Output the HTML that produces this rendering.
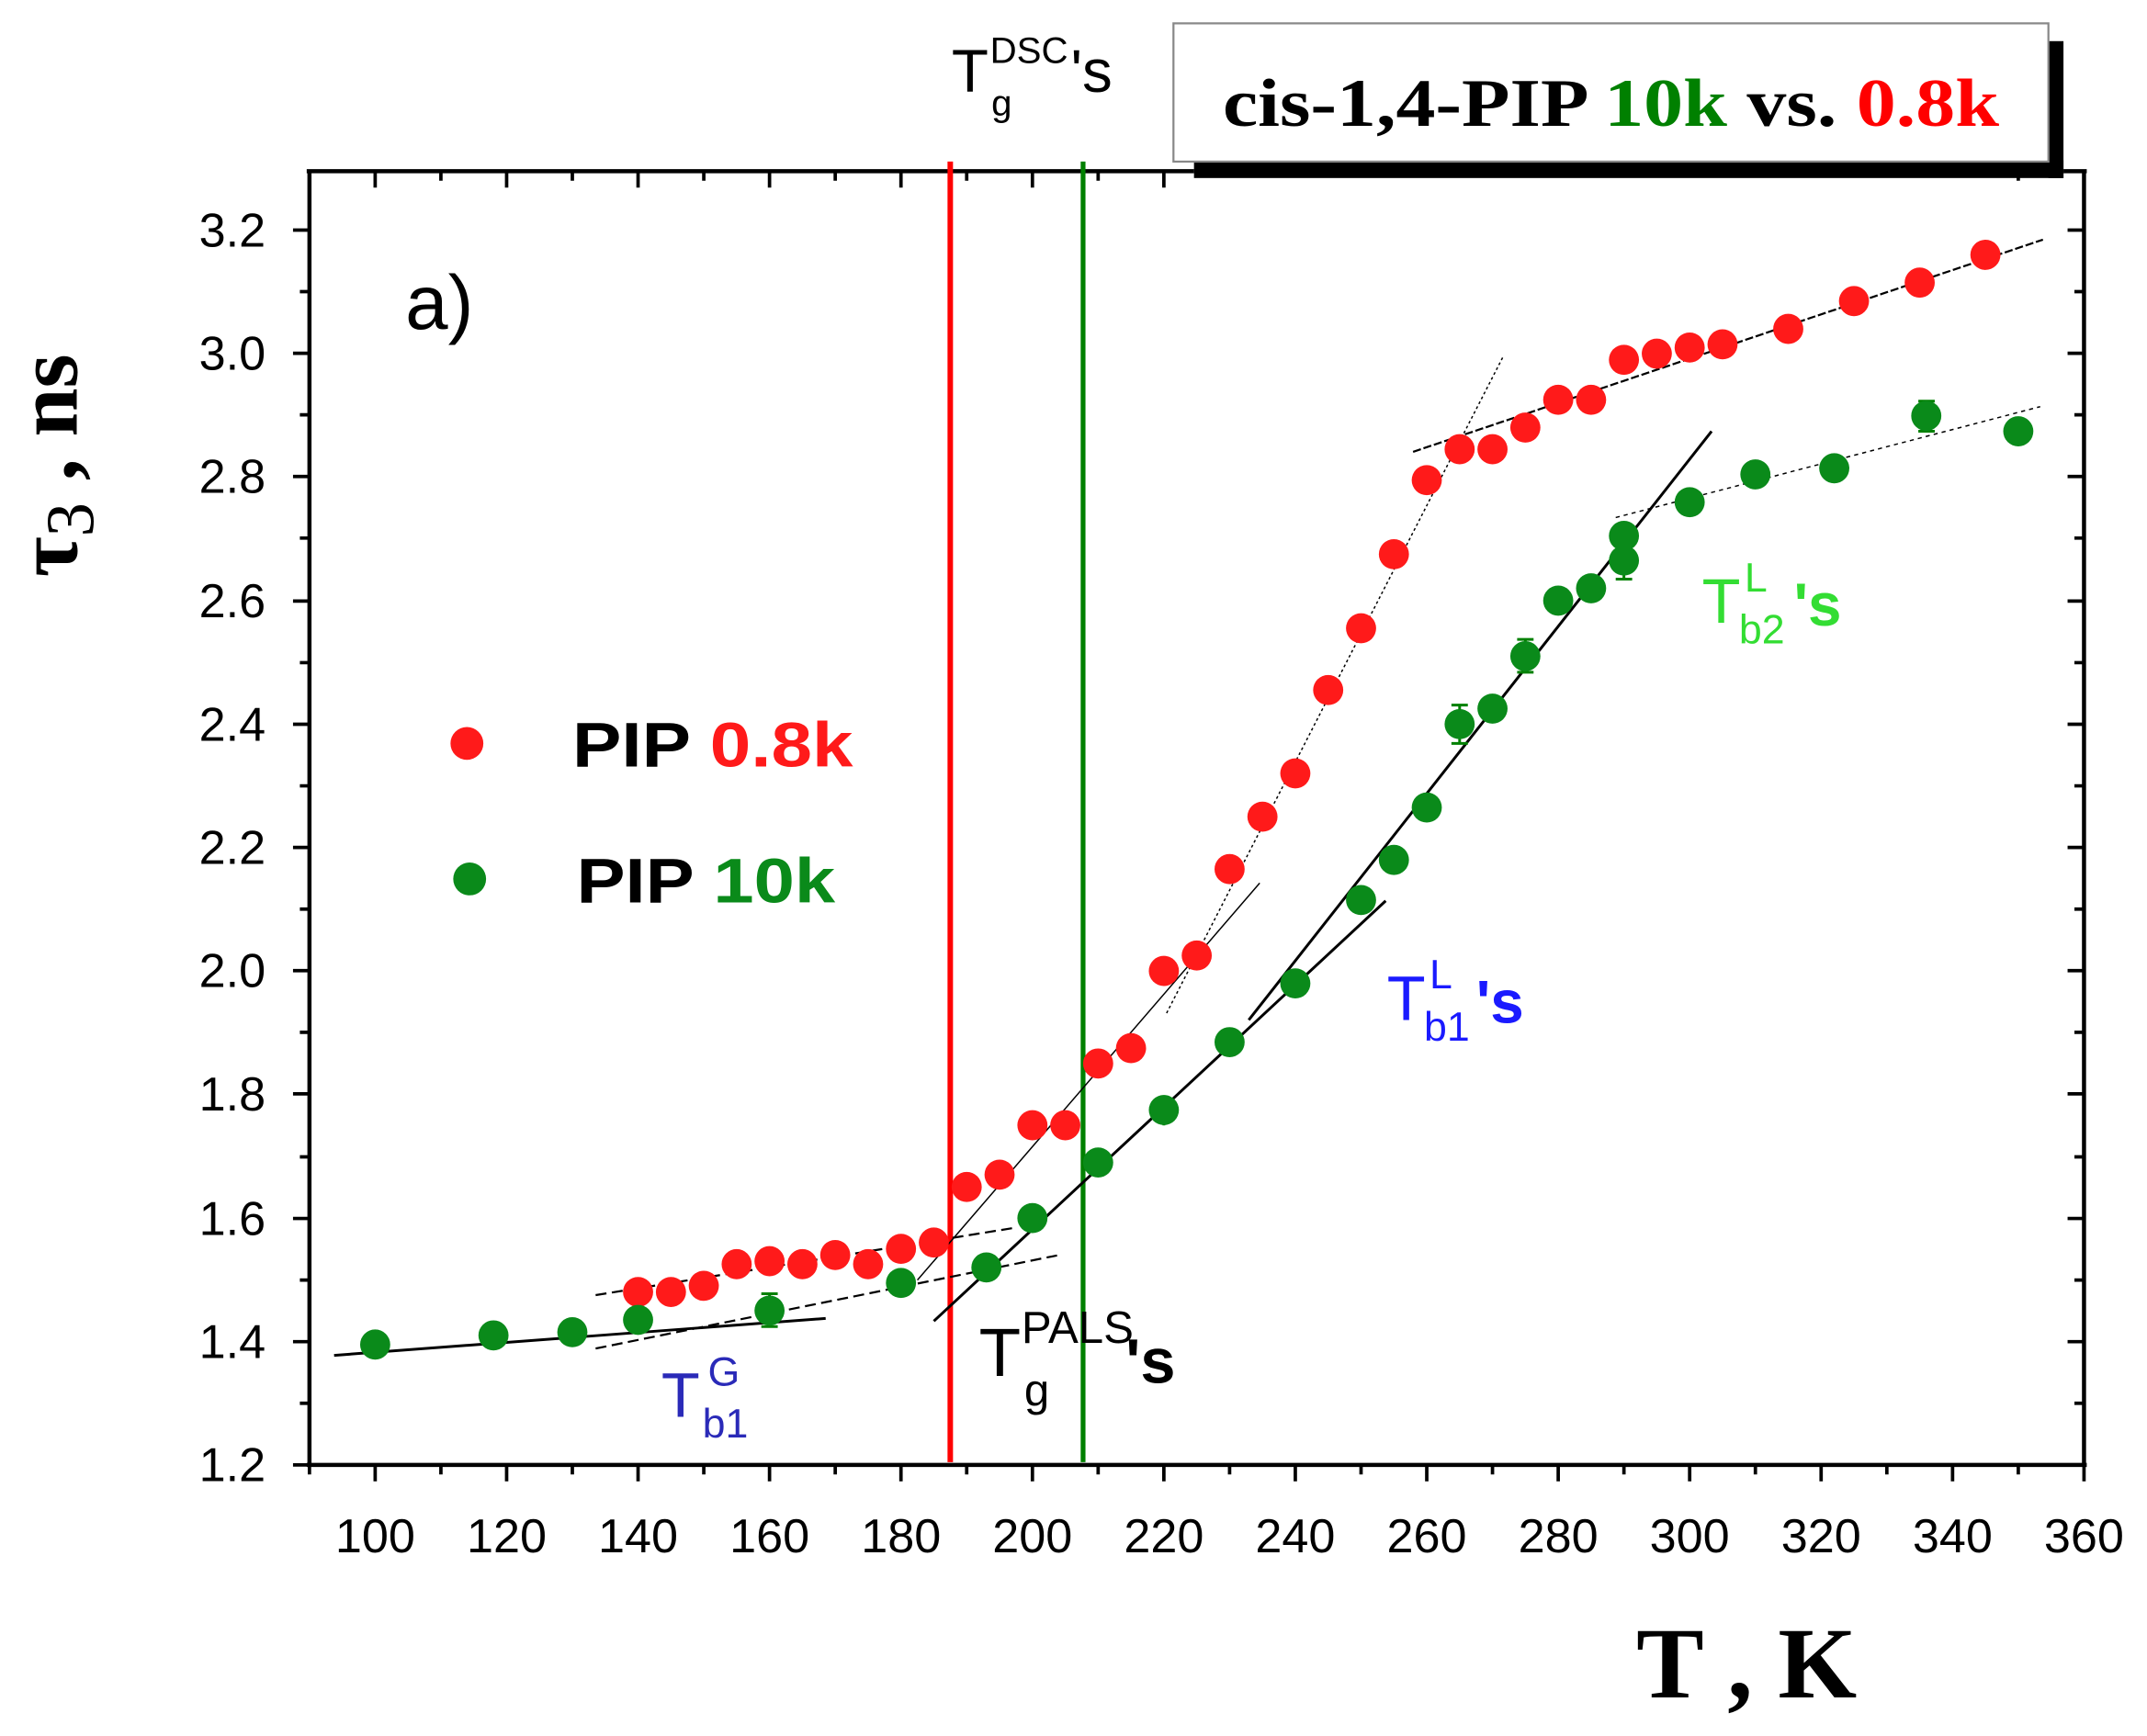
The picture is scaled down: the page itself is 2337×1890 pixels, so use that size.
<!DOCTYPE html>
<html><head><meta charset="utf-8"><style>
html,body{margin:0;padding:0;background:#fff;}
svg{display:block;}
text{font-family:"Liberation Sans",sans-serif;}
.s{font-family:"Liberation Serif",serif;font-weight:bold;}
</style></head><body>
<svg width="2337" height="1890" viewBox="0 0 1568 1268" xmlns="http://www.w3.org/2000/svg">
<rect width="1568" height="1268" fill="#fff"/>
<!-- title box -->
<rect x="872" y="117" width="635" height="13" fill="#000"/>
<rect x="1496" y="30" width="11" height="100" fill="#000"/>
<rect x="857" y="17" width="639" height="101" fill="#fff" stroke="#888" stroke-width="1.5"/>
<text x="893" y="92" class="s" font-size="50" textLength="567" lengthAdjust="spacingAndGlyphs"><tspan fill="#000">cis-1,4-PIP </tspan><tspan fill="#008000">10k</tspan><tspan fill="#000"> vs. </tspan><tspan fill="#ff0000">0.8k</tspan></text>

<!-- axes frame -->
<g stroke="#000" stroke-width="3" fill="none">
<line x1="226" y1="125" x2="226" y2="1071"/>
<line x1="1522" y1="125" x2="1522" y2="1071"/>
<line x1="224" y1="1070" x2="1524" y2="1070"/>
<line x1="224" y1="125" x2="872" y2="125"/>
<line x1="1507" y1="125" x2="1524" y2="125"/>
</g>
<g stroke="#000" stroke-width="2.5">
<path d="M274 1070v12M370 1070v12M466 1070v12M562 1070v12M658 1070v12M754 1070v12M850 1070v12M946 1070v12M1042 1070v12M1138 1070v12M1234 1070v12M1330 1070v12M1426 1070v12M1522 1070v12
M226 1070v7M322 1070v7M418 1070v7M514 1070v7M610 1070v7M706 1070v7M802 1070v7M898 1070v7M994 1070v7M1090 1070v7M1186 1070v7M1282 1070v7M1378 1070v7M1474 1070v7"/>
<path d="M274 125v12M370 125v12M466 125v12M562 125v12M658 125v12M754 125v12M850 125v12M1522 125v12
M322 125v7M418 125v7M514 125v7M610 125v7M706 125v7M802 125v7M1474 125v7"/>
<path d="M214 1070h12M214 980h12M214 890h12M214 799h12M214 709h12M214 619h12M214 529h12M214 439h12M214 348h12M214 258h12M214 168h12
M219 1025h7M219 935h7M219 845h7M219 754h7M219 664h7M219 574h7M219 484h7M219 393h7M219 303h7M219 213h7"/>
<path d="M1510 980h12M1510 890h12M1510 799h12M1510 709h12M1510 619h12M1510 529h12M1510 439h12M1510 348h12M1510 258h12M1510 168h12
M1515 1025h7M1515 935h7M1515 845h7M1515 754h7M1515 664h7M1515 574h7M1515 484h7M1515 393h7M1515 303h7M1515 213h7"/>
</g>
<!-- tick labels -->
<g font-size="35" fill="#000" text-anchor="middle">
<text x="274" y="1134">100</text><text x="370" y="1134">120</text><text x="466" y="1134">140</text><text x="562" y="1134">160</text><text x="658" y="1134">180</text><text x="754" y="1134">200</text><text x="850" y="1134">220</text><text x="946" y="1134">240</text><text x="1042" y="1134">260</text><text x="1138" y="1134">280</text><text x="1234" y="1134">300</text><text x="1330" y="1134">320</text><text x="1426" y="1134">340</text><text x="1522" y="1134">360</text>
</g>
<g font-size="35" fill="#000" text-anchor="end">
<text x="194" y="1082">1.2</text><text x="194" y="992">1.4</text><text x="194" y="902">1.6</text><text x="194" y="811">1.8</text><text x="194" y="721">2.0</text><text x="194" y="631">2.2</text><text x="194" y="541">2.4</text><text x="194" y="451">2.6</text><text x="194" y="360">2.8</text><text x="194" y="270">3.0</text><text x="194" y="180">3.2</text>
</g>
<!-- axis titles -->
<text x="1195" y="1240" class="s" font-size="74">T , K</text>
<text transform="translate(56,340) rotate(-90)" text-anchor="middle" class="s" font-size="64">τ<tspan font-size="50" dy="12" font-weight="normal">3</tspan><tspan dy="-12"> , ns</tspan></text>

<!-- vertical lines -->
<line x1="694" y1="118" x2="694" y2="1068" stroke="#ff0000" stroke-width="4"/>
<line x1="791" y1="118" x2="791" y2="1068" stroke="#008000" stroke-width="3.5"/>

<!-- fit lines -->
<g fill="none" stroke="#000">
<line x1="244" y1="990" x2="603" y2="963" stroke-width="2"/>
<line x1="435" y1="946" x2="740" y2="897" stroke-width="1.5" stroke-dasharray="8,4"/>
<line x1="435" y1="985" x2="772" y2="917" stroke-width="1.5" stroke-dasharray="8,4"/>
<line x1="670" y1="935" x2="920" y2="645" stroke-width="1"/>
<line x1="852" y1="740" x2="1098" y2="260" stroke-width="1" stroke-dasharray="2,2"/>
<line x1="1032" y1="330" x2="1492" y2="175" stroke-width="1.5" stroke-dasharray="6,2"/>
<line x1="682" y1="965" x2="1012" y2="658" stroke-width="2"/>
<line x1="912" y1="745" x2="1250" y2="315" stroke-width="2"/>
<line x1="1180" y1="378" x2="1490" y2="297" stroke-width="1" stroke-dasharray="3,3"/>
</g>

<!-- red points -->
<g fill="#ff1a1a">
<circle cx="466" cy="943.7" r="11"/><circle cx="490" cy="943.7" r="11"/><circle cx="514" cy="939.2" r="11"/><circle cx="538" cy="923.4" r="11"/><circle cx="562" cy="921.2" r="11"/><circle cx="586" cy="923.4" r="11"/><circle cx="610" cy="916.7" r="11"/><circle cx="634" cy="923.4" r="11"/><circle cx="658" cy="912.2" r="11"/><circle cx="682" cy="907.6" r="11"/><circle cx="706" cy="867" r="11"/><circle cx="730" cy="858" r="11"/><circle cx="754" cy="821.9" r="11"/><circle cx="778" cy="821.9" r="11"/><circle cx="802" cy="776.8" r="11"/><circle cx="826" cy="765.6" r="11"/><circle cx="850" cy="709.2" r="11"/><circle cx="874" cy="697.9" r="11"/><circle cx="898" cy="634.8" r="11"/><circle cx="922" cy="596.5" r="11"/><circle cx="946" cy="564.9" r="11"/><circle cx="970" cy="504" r="11"/><circle cx="994" cy="458.9" r="11"/><circle cx="1018" cy="404.8" r="11"/><circle cx="1042" cy="350.7" r="11"/><circle cx="1066" cy="328.1" r="11"/><circle cx="1090" cy="328.1" r="11"/><circle cx="1114" cy="312.3" r="11"/><circle cx="1138" cy="292" r="11"/><circle cx="1162" cy="292" r="11"/><circle cx="1186" cy="262.8" r="11"/><circle cx="1210" cy="258.3" r="11"/><circle cx="1234" cy="253.8" r="11"/><circle cx="1258" cy="251.5" r="11"/><circle cx="1306" cy="240.2" r="11"/><circle cx="1354" cy="219.9" r="11"/><circle cx="1402" cy="206.4" r="11"/><circle cx="1450" cy="186.1" r="11"/>
</g>
<g stroke="#008000" stroke-width="2">
<path d="M562 945v24M556 945h12M556 969h12 M1066 515v28M1060 515h12M1060 543h12 M1114 467v24M1108 467h12M1108 491h12 M1186 397v26M1180 397h12M1180 423h12 M1406.8 293v22M1401 293h12M1401 315h12 M1282 336v20M850 800v22"/>
</g>
<g fill="#0a8a1a">
<circle cx="274" cy="982.1" r="11"/><circle cx="360.4" cy="975.4" r="11"/><circle cx="418" cy="973.1" r="11"/><circle cx="466" cy="964.1" r="11"/><circle cx="562" cy="957.3" r="11"/><circle cx="658" cy="937.1" r="11"/><circle cx="720.4" cy="925.8" r="11"/><circle cx="754" cy="889.7" r="11"/><circle cx="802" cy="849.1" r="11"/><circle cx="850" cy="810.8" r="11"/><circle cx="898" cy="761.2" r="11"/><circle cx="946" cy="718.3" r="11"/><circle cx="994" cy="657.4" r="11"/><circle cx="1018" cy="628.1" r="11"/><circle cx="1042" cy="589.8" r="11"/><circle cx="1066" cy="528.9" r="11"/><circle cx="1090" cy="517.6" r="11"/><circle cx="1114" cy="479.3" r="11"/><circle cx="1138" cy="438.7" r="11"/><circle cx="1162" cy="429.7" r="11"/><circle cx="1186" cy="409.4" r="11"/><circle cx="1186" cy="391.4" r="11"/><circle cx="1234" cy="366.8" r="11"/><circle cx="1282" cy="346.5" r="11"/><circle cx="1339.6" cy="342" r="11"/><circle cx="1406.8" cy="303.7" r="11"/><circle cx="1474" cy="315" r="11"/>
</g>

<!-- legend -->
<circle cx="341" cy="543" r="12" fill="#ff1a1a"/>
<text x="418" y="560" font-size="46" font-weight="bold" fill="#000" textLength="205" lengthAdjust="spacingAndGlyphs">PIP <tspan fill="#ff1a1a">0.8k</tspan></text>
<circle cx="343" cy="642" r="12" fill="#0a8a1a"/>
<text x="421" y="659" font-size="46" font-weight="bold" fill="#000" textLength="189" lengthAdjust="spacingAndGlyphs">PIP <tspan fill="#0a8a1a">10k</tspan></text>

<text x="296" y="240" font-size="56" fill="#000">a)</text>

<!-- annotations -->
<text x="695" y="67" font-size="44" fill="#000">T</text>
<text x="723" y="46" font-size="27" fill="#000">DSC</text>
<text x="724" y="84" font-size="27" fill="#000">g</text>
<text x="782" y="67" font-size="44" fill="#000">'s</text>

<text x="715" y="1005" font-size="50" fill="#000">T</text>
<text x="746" y="981" font-size="33" fill="#000">PALS</text>
<text x="748" y="1027" font-size="33" fill="#000">g</text>
<text x="822" y="1010" font-size="46" font-weight="bold" fill="#000">'s</text>

<text x="483" y="1035" font-size="46" fill="#2a2ab8">T</text>
<text x="517" y="1012" font-size="30" fill="#2a2ab8">G</text>
<text x="513" y="1050" font-size="30" fill="#2a2ab8">b1</text>

<text x="1013" y="745" font-size="46" fill="#1a1aff">T</text>
<text x="1044" y="722" font-size="30" fill="#1a1aff">L</text>
<text x="1040" y="760" font-size="30" fill="#1a1aff">b1</text>
<text x="1078" y="747" font-size="44" font-weight="bold" fill="#1a1aff">'s</text>

<text x="1243" y="455" font-size="46" fill="#33dd33">T</text>
<text x="1274" y="432" font-size="30" fill="#33dd33">L</text>
<text x="1270" y="470" font-size="30" fill="#33dd33">b2</text>
<text x="1310" y="457" font-size="44" font-weight="bold" fill="#33dd33">'s</text>
</svg>
</body></html>
